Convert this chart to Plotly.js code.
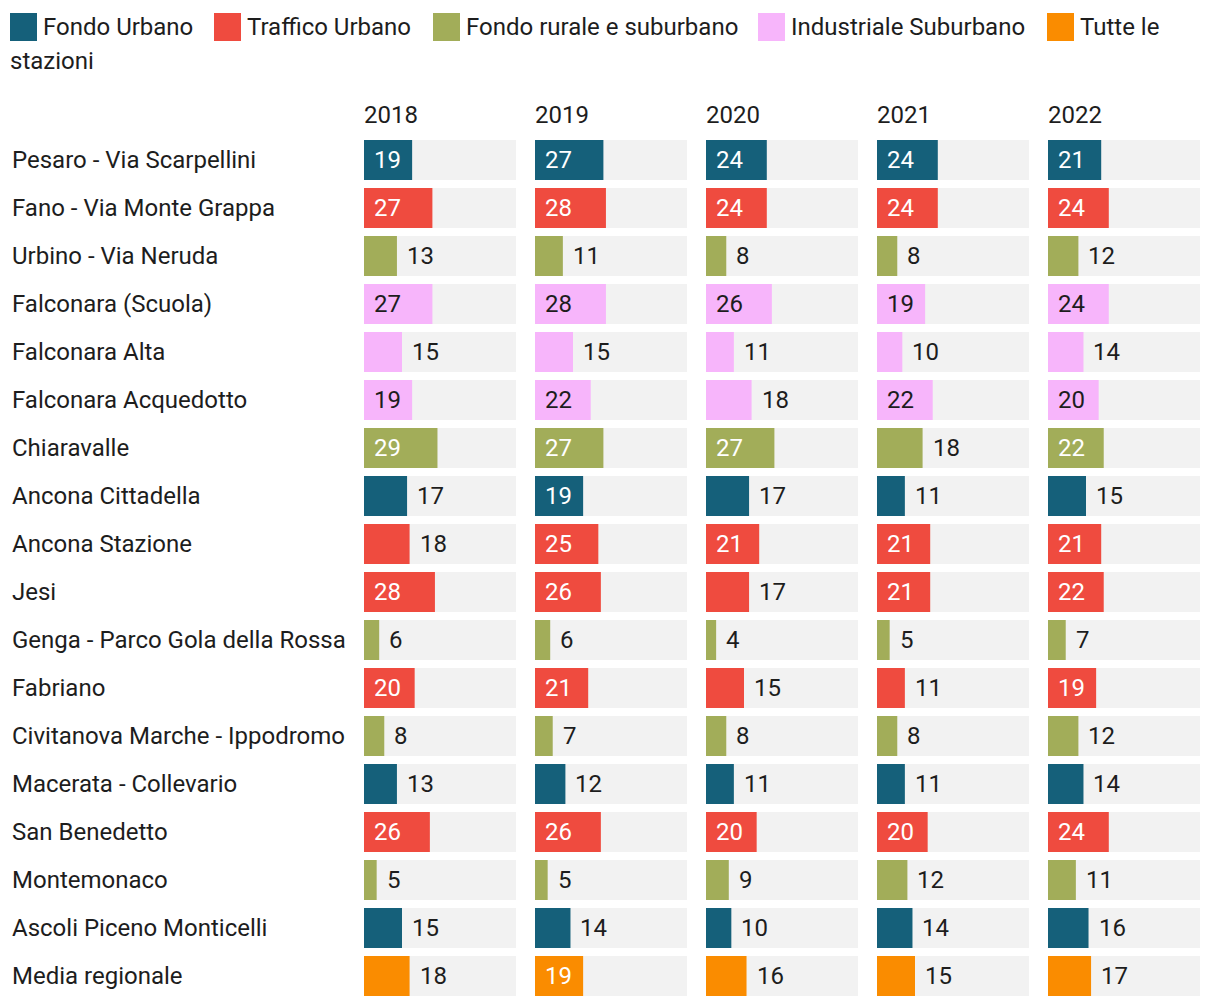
<!DOCTYPE html>
<html>
<head>
<meta charset="utf-8">
<script src="https://cdn.plot.ly/plotly-3.0.1.min.js"></script>
<style>
  body { margin: 0; background: #fff; }
  #plot { width: 1220px; height: 1008px; }
</style>
</head>
<body>
<div id="plot"></div>
<script>
/* Stations, their type and the yearly values */
var stations = [
  "Pesaro - Via Scarpellini", "Fano - Via Monte Grappa", "Urbino - Via Neruda",
  "Falconara (Scuola)", "Falconara Alta", "Falconara Acquedotto", "Chiaravalle",
  "Ancona Cittadella", "Ancona Stazione", "Jesi", "Genga - Parco Gola della Rossa",
  "Fabriano", "Civitanova Marche - Ippodromo", "Macerata - Collevario",
  "San Benedetto", "Montemonaco", "Ascoli Piceno Monticelli", "Media regionale"
];
var stationType = [
  "Fondo Urbano", "Traffico Urbano", "Fondo rurale e suburbano",
  "Industriale Suburbano", "Industriale Suburbano", "Industriale Suburbano",
  "Fondo rurale e suburbano", "Fondo Urbano", "Traffico Urbano", "Traffico Urbano",
  "Fondo rurale e suburbano", "Traffico Urbano", "Fondo rurale e suburbano",
  "Fondo Urbano", "Traffico Urbano", "Fondo rurale e suburbano", "Fondo Urbano",
  "Tutte le stazioni"
];
var years = ["2018", "2019", "2020", "2021", "2022"];
var v2018 = [19, 27, 13, 27, 15, 19, 29, 17, 18, 28, 6, 20, 8, 13, 26, 5, 15, 18];
var v2019 = [27, 28, 11, 28, 15, 22, 27, 19, 25, 26, 6, 21, 7, 12, 26, 5, 14, 19];
var v2020 = [24, 24, 8, 26, 11, 18, 27, 17, 21, 17, 4, 15, 8, 11, 20, 9, 10, 16];
var v2021 = [24, 24, 8, 19, 10, 22, 18, 11, 21, 21, 5, 11, 8, 11, 20, 12, 14, 15];
var v2022 = [21, 24, 12, 24, 14, 20, 22, 15, 21, 22, 7, 19, 12, 14, 24, 11, 16, 17];
var values = [v2018, v2019, v2020, v2021, v2022];

var types = ["Fondo Urbano", "Traffico Urbano", "Fondo rurale e suburbano",
             "Industriale Suburbano", "Tutte le stazioni"];
var typeColors = {
  "Fondo Urbano": "#15607a",
  "Traffico Urbano": "#ef4b3f",
  "Fondo rurale e suburbano": "#a2ad59",
  "Industriale Suburbano": "#f7b5fb",
  "Tutte le stazioni": "#fa8c00"
};

var FONT = "Roboto, sans-serif";
var FS = 24;
var INK = "#1d1d1d";
var MAXV = 60;

// pixel helpers for the 1220x1008 canvas
var L = 364, R = 20, T = 136, B = 8, W = 1220, H = 1008;
function px(x) { return (x - L) / (W - L - R); }
function py(y) { return 1 - (y - T) / (H - T - B); }

var traces = [];
var annotations = [];
var shapes = [];
var layout = {
  width: W, height: H,
  margin: {l: L, r: R, t: T, b: B},
  paper_bgcolor: "#ffffff", plot_bgcolor: "#ffffff",
  barmode: "overlay", bargap: 8 / 48,
  showlegend: false,
  font: {family: FONT, size: FS, color: INK},
  yaxis: {
    type: "category", range: [stations.length - 0.5, -0.5],
    showticklabels: false, showgrid: false, zeroline: false, fixedrange: true
  }
};

var colW = 152, gap = 19;
years.forEach(function (yr, i) {
  var ax = i === 0 ? "x" : "x" + (i + 1);
  var axKey = i === 0 ? "xaxis" : "xaxis" + (i + 1);
  var x0 = L + i * (colW + gap);
  layout[axKey] = {
    domain: [px(x0), px(x0 + colW)], anchor: "y", range: [0, MAXV],
    showticklabels: false, showgrid: false, zeroline: false, fixedrange: true
  };
  // grey background bars
  traces.push({
    type: "bar", orientation: "h", xaxis: ax, yaxis: "y",
    y: stations, x: stations.map(function () { return MAXV; }),
    marker: {color: "#f2f2f2"}, hoverinfo: "skip"
  });
  // value bars
  traces.push({
    type: "bar", orientation: "h", xaxis: ax, yaxis: "y",
    y: stations, x: values[i], name: yr,
    marker: {color: stationType.map(function (t) { return typeColors[t]; })}
  });
  // year header
  annotations.push({
    xref: ax + " domain", yref: "paper", x: 0, y: py(115), xshift: -2,
    xanchor: "left", yanchor: "middle", text: yr, showarrow: false,
    font: {family: FONT, size: FS, color: INK}
  });
  // value labels
  values[i].forEach(function (v, j) {
    var inside = v >= 19;
    var col = inside ? (stationType[j] === "Industriale Suburbano" ? INK : "#ffffff") : INK;
    annotations.push({
      xref: ax, yref: "y", x: inside ? 0 : v, y: stations[j],
      xanchor: "left", yanchor: "middle", xshift: 8,
      text: String(v), showarrow: false,
      font: {family: FONT, size: FS, color: col}
    });
  });
});

// row labels
stations.forEach(function (s) {
  annotations.push({
    xref: "paper", yref: "y", x: px(10), y: s,
    xanchor: "left", yanchor: "middle", text: s, showarrow: false,
    font: {family: FONT, size: FS, color: INK}
  });
});

// legend (flowing line with a wrapped last item)
var legX = [10, 214, 433, 758, 1047];
var legText = ["Fondo Urbano", "Traffico Urbano", "Fondo rurale e suburbano",
               "Industriale Suburbano", "Tutte le"];
types.forEach(function (t, k) {
  shapes.push({
    type: "rect", xref: "paper", yref: "paper",
    x0: px(legX[k]), x1: px(legX[k] + 27), y0: py(41), y1: py(13),
    fillcolor: typeColors[t], line: {width: 0}
  });
  annotations.push({
    xref: "paper", yref: "paper", x: px(legX[k] + 31), y: py(27),
    xanchor: "left", yanchor: "middle", text: legText[k], showarrow: false,
    font: {family: FONT, size: FS, color: INK}
  });
});
annotations.push({
  xref: "paper", yref: "paper", x: px(8), y: py(61),
  xanchor: "left", yanchor: "middle", text: "stazioni", showarrow: false,
  font: {family: FONT, size: FS, color: INK}
});

layout.annotations = annotations;
layout.shapes = shapes;

Plotly.newPlot("plot", traces, layout, {displayModeBar: false, staticPlot: true});
</script>
</body>
</html>
